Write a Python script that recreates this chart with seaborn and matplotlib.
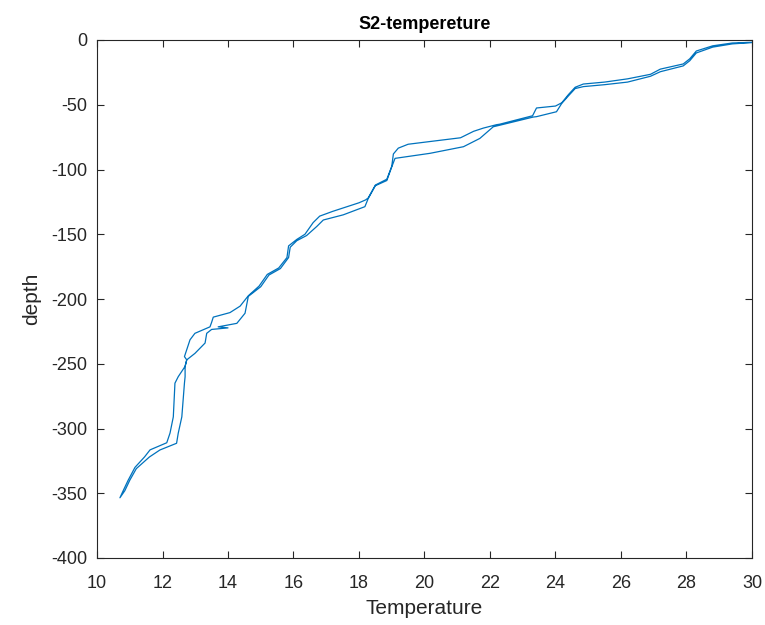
import numpy as np
import pandas as pd
import matplotlib
matplotlib.use("Agg")
import matplotlib.pyplot as plt
import seaborn as sns

# Down-cast branch (surface -> bottom)
down_temp = [30.0, 29.4, 28.8, 28.3, 28.1, 27.9, 27.2, 26.9, 26.2, 25.5, 24.85, 24.6, 24.4, 24.19,
             24.0, 23.42, 23.3, 22.3, 22.2, 21.8, 21.5, 21.1, 20.2, 19.5, 19.2, 19.05, 19.0, 18.85,
             18.5, 18.28, 18.2, 18.0, 17.2, 16.8, 16.6, 16.35, 16.1, 15.85, 15.8, 15.55, 15.2, 14.95,
             14.62, 14.37, 14.06, 13.55, 13.5, 13.45, 12.99, 12.84, 12.67, 12.74, 12.69, 12.48, 12.38,
             12.33, 12.23, 12.13, 11.62, 11.45, 11.16, 10.95, 10.8, 10.7]
down_depth = [-1.8, -2.3, -4.5, -8.5, -14.5, -18.5, -22.5, -26.5, -30, -32.5, -34, -36.5, -42, -48.5,
              -51, -52.5, -58.5, -65, -65.4, -68, -70.5, -75.5, -78.3, -80.5, -83.5, -88, -97.5, -107.5,
              -112, -122, -123.5, -125.7, -132.3, -136, -141, -150, -154, -159, -168, -176, -181, -190,
              -197.5, -205.5, -210.5, -214, -218, -221.5, -226.5, -231.5, -244.5, -247, -252, -260, -265,
              -291, -303.5, -311, -316.5, -322, -330, -340, -348, -353.5]

# Up-cast branch (bottom -> surface)
up_temp = [10.7, 10.85, 11.0, 11.2, 11.6, 11.92, 12.43, 12.48, 12.59, 12.67, 12.69, 12.69, 12.74,
           12.99, 13.3, 13.35, 13.5, 14.0, 13.7, 14.27, 14.52, 14.62, 15.0, 15.25, 15.6, 15.85, 15.9,
           16.1, 16.4, 16.71, 16.91, 17.52, 18.18, 18.28, 18.5, 18.85, 19.0, 19.1, 20.17, 21.19, 21.69,
           22.1, 22.3, 23.32, 23.42, 24.03, 24.19, 24.4, 24.6, 24.85, 25.5, 26.2, 26.9, 27.2, 27.9,
           28.1, 28.3, 28.8, 29.4, 30.0]
up_depth = [-353.5, -348, -340, -331, -322, -316.6, -311.4, -303.7, -291, -265, -260, -252, -247,
            -242, -234, -226.5, -223.5, -222.3, -221.5, -218.8, -211, -198, -190.5, -181.5, -176.5, -168,
            -160, -155, -151, -144, -139, -135, -128.7, -122.5, -112.5, -108.5, -98, -91.4, -87.5, -82.4,
            -76, -67, -65.8, -59.5, -59.2, -55.4, -49, -43, -37.5, -36, -34.5, -32.5, -28, -24.5, -20,
            -16, -10, -5.5, -3, -2.0]

x_ticks = [10, 12, 14, 16, 18, 20, 22, 24, 26, 28, 30]
y_ticks = [-400, -350, -300, -250, -200, -150, -100, -50, 0]

df = pd.DataFrame({
    "Temperature": down_temp + up_temp,
    "depth": down_depth + up_depth,
})

sns.set_theme(style="ticks")
plt.rcParams["font.family"] = ["Liberation Sans", "DejaVu Sans"]
plt.rcParams["axes.unicode_minus"] = False

fig = plt.figure(figsize=(7.65, 6.25), dpi=100)
ax = fig.add_axes([0.1268, 0.1072, 0.8562, 0.8288])

sns.lineplot(data=df, x="Temperature", y="depth", sort=False, estimator=None,
             color="#0072BD", linewidth=0.9, ax=ax)

ax.set_xlim(10, 30)
ax.set_ylim(-400, 0)
ax.set_xticks(x_ticks)
ax.set_yticks(y_ticks)
edge = "#262626"
for s in ax.spines.values():
    s.set_visible(True)
    s.set_color(edge)
    s.set_linewidth(0.8)
ax.tick_params(direction="in", top=True, right=True, length=5, width=0.8,
               colors=edge, labelsize=13, labelcolor=edge)
ax.tick_params(axis="x", pad=12)
ax.tick_params(axis="y", pad=7)
ax.set_xlabel("Temperature", fontsize=15, color=edge, labelpad=5)
ax.set_ylabel("depth", fontsize=15, color=edge, labelpad=7)
ax.set_title("S2-tempereture", fontsize=13, fontweight="bold", color="black", pad=8)

fig.savefig("out.png", dpi=100)
